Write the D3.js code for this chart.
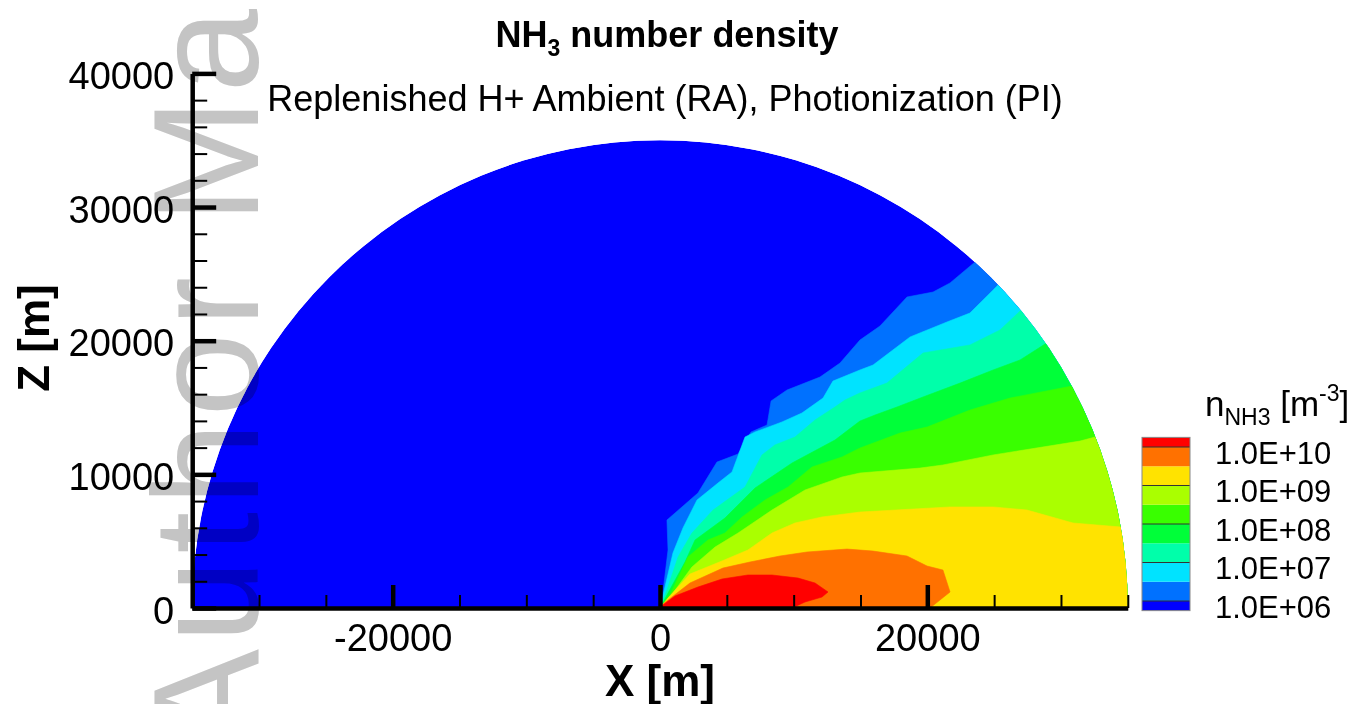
<!DOCTYPE html>
<html>
<head>
<meta charset="utf-8">
<script src="https://cdn.jsdelivr.net/npm/d3@7"></script>
<style>
  html, body { margin: 0; padding: 0; background: #fff; }
  svg { display: block; font-family: "Liberation Sans", Arial, Helvetica, sans-serif; }
</style>
</head>
<body>
<div id="vis"></div>
<script>

var width = 1364;
var height = 704;

// contour levels, log10 of n_NH3 [m^-3]
var levels = [6, 6.5, 7, 7.5, 8, 8.5, 9, 9.5, 10];
var bandColors = ['#0000ff', '#0071ff', '#00e3ff', '#00ffaa', '#00ff39',
                  '#39ff00', '#aaff00', '#ffe300', '#ff7100', '#ff0000'];
var legendLevels = [6, 7, 8, 9, 10];
var legendLabels = ['1.0E+06', '1.0E+07', '1.0E+08', '1.0E+09', '1.0E+10'];

var xTicksMajor = [-20000, 0, 20000];
var yTicksMajor = [0, 10000, 20000, 30000, 40000];

var domeRadius = 35000;

// iso-lines [x, z] in metres, origin -> dome edge
var iso_6_0 = [[0,0],[150,600],[600,4340],[520,6580],[2240,8080],[2840,8600],[4260,10920],
  [5840,11520],[6810,13170],[8010,13690],[8310,15490],[9500,16310],[11970,17280],[13470,18330],
  [14960,20050],[16460,21100],[18480,23270],[20430,23640],[21700,24320],[23570,25890]];
var iso_6_5 = [[0,0],[370,1570],[970,4120],[1720,5990],[2770,8080],[4340,9350],[5390,10180],
  [6360,12790],[7110,13170],[9130,13920],[10620,14590],[12200,15710],[12940,16980],[14960,17810],
  [15940,18180],[18710,20280],[21470,21400],[23190,22070],[24920,23790],[25290,24170]];
var iso_7_0 = [[0,0],[520,1350],[1350,3820],[2390,5610],[3970,7330],[6360,9050],[7630,11450],
  [8600,12200],[10100,12790],[11600,14070],[13090,15040],[13840,15560],[14960,16090],[16980,16830],
  [19680,19080],[23190,19680],[25440,20800],[26940,22220]];
var iso_7_5 = [[0,0],[600,1120],[1870,3440],[2620,5090],[4860,6730],[7110,8980],[9880,10850],
  [13090,12570],[14960,13990],[16090,14440],[17730,15040],[19680,15790],[22450,16830],
  [24920,17810],[26940,18560],[28810,19750]];
var iso_8_0 = [[0,0],[750,970],[2090,3820],[3590,5090],[4860,5610],[6140,6810],[7860,8080],
  [9580,9050],[11370,10550],[13620,11300],[14960,11970],[17960,13090],[19980,13540],
  [23190,14810],[26190,15710],[30830,16610]];
var iso_8_5 = [[0,0],[750,820],[2390,3070],[4120,4560],[5840,5610],[8380,7330],[10850,8830],
  [13620,9800],[14960,10100],[19450,10470],[21170,10700],[24920,11450],[31420,12490],[32550,12790]];
var iso_9_0 = [[0,0],[600,750],[2240,2540],[4640,3520],[6580,4340],[8380,5610],[10100,6360],
  [12120,6810],[14960,7180],[21700,7560],[24920,7560],[27460,7330],[30900,6360],[34490,6060]];
// closed blobs sitting on the z = 0 axis
var iso_9_5 = [[0,0],[220,300],[2240,1870],[4710,2990],[6730,3440],[8980,3890],[11000,4190],
  [13990,4410],[15940,4260],[18480,3890],[19980,3140],[21170,2840],[21700,1200],[20200,0]];
var iso_10_0 = [[0,0],[220,220],[1120,900],[2840,1570],[4640,2170],[6580,2470],[8380,2470],
  [10330,2240],[11600,1870],[12570,1200],[12120,820],[10850,450],[9880,0]];

var openLines = [iso_6_0, iso_6_5, iso_7_0, iso_7_5, iso_8_0, iso_8_5, iso_9_0];
var closedLines = [iso_9_5, iso_10_0];


var x = d3.scaleLinear().domain([-35000, 35000]).range([192.2, 1127.8]);
var y = d3.scaleLinear().domain([0, 40000]).range([608, 73.4]);

var svg = d3.select('#vis').append('svg')
    .attr('width', width)
    .attr('height', height);

var line = d3.line()
    .x(function (d) { return x(d[0]); })
    .y(function (d) { return y(d[1]); });

var rPx = x(domeRadius) - x(0);
var domePath = 'M' + x(-domeRadius) + ',' + y(0) +
    'A' + rPx + ',' + rPx + ' 0 0 1 ' + x(domeRadius) + ',' + y(0) + 'Z';

svg.append('clipPath').attr('id', 'dome')
    .append('path').attr('d', domePath);

var plot = svg.append('g').attr('clip-path', 'url(#dome)');

// background band (below 1e6)
plot.append('path')
    .attr('d', domePath)
    .attr('fill', bandColors[0]);

// region under an iso-line: line, then around the dome edge back to z = 0
function regionBelow(pts) {
    var last = pts[pts.length - 1];
    var a0 = Math.atan2(last[1], last[0]);
    var rr = domeRadius * 1.04;
    var arc = d3.range(a0, 0, -0.01).map(function (a) {
        return [rr * Math.cos(a), rr * Math.sin(a)];
    });
    arc.push([rr, 0]);
    return pts.concat(arc, [[0, 0]]);
}

openLines.forEach(function (pts, i) {
    plot.append('path')
        .attr('d', line(regionBelow(pts)) + 'Z')
        .attr('fill', bandColors[i + 1])
        .attr('stroke', bandColors[i + 1])
        .attr('stroke-width', 0.6);
});

closedLines.forEach(function (pts, i) {
    var c = bandColors[openLines.length + i + 1];
    plot.append('path')
        .attr('d', line(pts) + 'Z')
        .attr('fill', c)
        .attr('stroke', c)
        .attr('stroke-width', 0.6);
});


// axes, ticks pointing inward
function styleAxis(g, fs) {
    g.attr('font-family', null).attr('font-size', fs);
    g.selectAll('text').attr('fill', '#000');
    g.select('.domain').attr('stroke', '#000').attr('stroke-width', 4.5);
}

// plain hyphen for negatives, like the original
var fmt = function (v) { return String(v); };

var xMinor = d3.range(-35000, 35001, 5000).filter(function (v) { return v % 20000 !== 0; });
var yMinor = d3.range(0, 40001, 2000).filter(function (v) { return v % 10000 !== 0; });

svg.append('g')
    .attr('transform', 'translate(0,' + y(0) + ')')
    .call(d3.axisBottom(x).tickValues(xMinor).tickFormat('').tickSizeInner(-13).tickSizeOuter(0))
    .call(function (g) { g.select('.domain').remove(); })
    .selectAll('line').attr('stroke', '#000').attr('stroke-width', 2);

svg.append('g')
    .attr('transform', 'translate(' + x(-35000) + ',0)')
    .call(d3.axisLeft(y).tickValues(yMinor).tickFormat('').tickSizeInner(-15).tickSizeOuter(0))
    .call(function (g) { g.select('.domain').remove(); })
    .selectAll('line').attr('stroke', '#000').attr('stroke-width', 2);

var xAxis = svg.append('g')
    .attr('transform', 'translate(0,' + y(0) + ')')
    .call(d3.axisBottom(x).tickValues(xTicksMajor).tickFormat(fmt)
        .tickSizeInner(-23).tickSizeOuter(0).tickPadding(16))
    .call(styleAxis, 38);
xAxis.selectAll('.tick line').attr('stroke', '#000').attr('stroke-width', 4.5);

var yAxis = svg.append('g')
    .attr('transform', 'translate(' + x(-35000) + ',0)')
    .call(d3.axisLeft(y).tickValues(yTicksMajor).tickFormat(fmt)
        .tickSizeInner(-24).tickSizeOuter(0).tickPadding(18))
    .call(styleAxis, 38);
yAxis.selectAll('.tick line').attr('stroke', '#000').attr('stroke-width', 4.5);
yAxis.selectAll('.tick text').attr('dy', '0.40em');

// axis titles
svg.append('text')
    .attr('x', x(0))
    .attr('y', 696)
    .attr('text-anchor', 'middle')
    .attr('font-size', 44)
    .attr('font-weight', 'bold')
    .text('X [m]');

svg.append('text')
    .attr('transform', 'translate(49,' + 338 + ') rotate(-90)')
    .attr('text-anchor', 'middle')
    .attr('font-size', 44)
    .attr('font-weight', 'bold')
    .text('Z [m]');

// titles
var title = svg.append('text')
    .attr('x', 667)
    .attr('y', 47)
    .attr('text-anchor', 'middle')
    .attr('font-size', 36)
    .attr('font-weight', 'bold');
title.append('tspan').text('NH');
title.append('tspan').attr('font-size', 23).attr('dy', 9).text('3');
title.append('tspan').attr('dy', -9).text(' number density');

svg.append('text')
    .attr('x', 665)
    .attr('y', 111)
    .attr('text-anchor', 'middle')
    .attr('font-size', 36)
    .text('Replenished H+ Ambient (RA), Photionization (PI)');


// legend
var legX = 1142, legW = 48;
var legY = d3.scaleLinear().domain([6, 10]).range([601, 447]);
var legend = svg.append('g');

bandColors.forEach(function (c, i) {
    var lo = i === 0 ? 5.75 : levels[i - 1];
    var hi = i === levels.length ? 10.25 : levels[i];
    legend.append('rect')
        .attr('x', legX)
        .attr('y', legY(hi))
        .attr('width', legW)
        .attr('height', legY(lo) - legY(hi))
        .attr('fill', c);
});

legend.selectAll('.sep')
    .data(legendLevels)
    .enter().append('line')
    .attr('class', 'sep')
    .attr('x1', legX).attr('x2', legX + legW)
    .attr('y1', function (d) { return legY(d); })
    .attr('y2', function (d) { return legY(d); })
    .attr('stroke', '#333')
    .attr('stroke-width', 1);

legend.append('rect')
    .attr('x', legX)
    .attr('y', legY(10.25))
    .attr('width', legW)
    .attr('height', legY(5.75) - legY(10.25))
    .attr('fill', 'none')
    .attr('stroke', '#888')
    .attr('stroke-width', 1);

legend.selectAll('.lab')
    .data(legendLevels)
    .enter().append('text')
    .attr('class', 'lab')
    .attr('x', 1215)
    .attr('y', function (d) { return legY(d) + 6; })
    .attr('dy', '0.35em')
    .attr('font-size', 31)
    .text(function (d, i) { return legendLabels[i]; });

var lt = legend.append('text')
    .attr('x', 1205)
    .attr('y', 416)
    .attr('font-size', 35);
lt.append('tspan').text('n');
lt.append('tspan').attr('font-size', 23).attr('dy', 9).text('NH3');
lt.append('tspan').attr('dy', -9).text(' [m');
lt.append('tspan').attr('font-size', 23).attr('dy', -15).text('-3');
lt.append('tspan').attr('dy', 15).text(']');


// manuscript watermark
svg.append('text')
    .attr('transform', 'translate(258,749) rotate(-90)')
    .attr('font-size', 150)
    .attr('letter-spacing', 6)
    .attr('fill', '#c4c4c4')
    .style('mix-blend-mode', 'multiply')
    .text('Author Manuscript');

</script>
</body>
</html>
